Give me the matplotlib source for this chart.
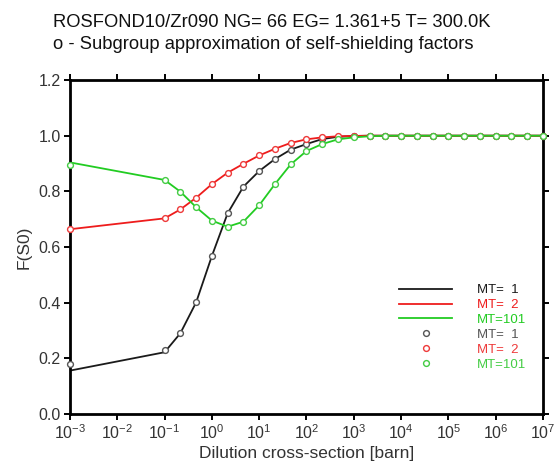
import matplotlib
matplotlib.use("Agg")
import matplotlib.pyplot as plt

plt.rcParams['font.family'] = ['Liberation Sans', 'DejaVu Sans']
plt.rcParams['mathtext.fontset'] = 'custom'
plt.rcParams['mathtext.rm'] = 'Liberation Sans'
plt.rcParams['mathtext.default'] = 'regular'

# Dilution cross-section grid (barn)
dilution = [1e-3, 0.1, 0.215, 0.464, 1.0, 2.15, 4.64, 10.0, 21.5, 46.4,
            100.0, 215.0, 464.0, 1e3, 2.15e3, 4.64e3, 1e4, 2.15e4, 4.64e4,
            1e5, 2.15e5, 4.64e5, 1e6, 2.15e6, 4.64e6, 1e7]

# Pointwise self-shielding factors (lines)
line_mt1 = [0.156, 0.222, 0.290, 0.401, 0.568, 0.721, 0.817, 0.873, 0.916, 0.950,
            0.970, 0.988, 0.996, 0.999, 1.0, 1.0, 1.0, 1.0, 1.0, 1.0, 1.0, 1.0, 1.0, 1.0, 1.0, 1.0]
line_mt2 = [0.664, 0.703, 0.735, 0.777, 0.826, 0.867, 0.899, 0.929, 0.953, 0.974,
            0.987, 0.994, 0.998, 0.999, 1.0, 1.0, 1.0, 1.0, 1.0, 1.0, 1.0, 1.0, 1.0, 1.0, 1.0, 1.0]
line_mt101 = [0.904, 0.841, 0.799, 0.743, 0.695, 0.673, 0.691, 0.750, 0.826, 0.897,
              0.945, 0.970, 0.987, 0.994, 0.998, 1.0, 1.0, 1.0, 1.0, 1.0, 1.0, 1.0, 1.0, 1.0, 1.0, 1.0]

# Subgroup approximation (markers)
sg_mt1 = [0.180, 0.230, 0.290, 0.401, 0.568, 0.721, 0.817, 0.873, 0.916, 0.950,
          0.970, 0.988, 0.996, 0.999, 1.0, 1.0, 1.0, 1.0, 1.0, 1.0, 1.0, 1.0, 1.0, 1.0, 1.0, 1.0]
sg_mt2 = [0.666, 0.703, 0.735, 0.777, 0.826, 0.867, 0.899, 0.929, 0.953, 0.974,
          0.987, 0.994, 0.998, 0.999, 1.0, 1.0, 1.0, 1.0, 1.0, 1.0, 1.0, 1.0, 1.0, 1.0, 1.0, 1.0]
sg_mt101 = [0.895, 0.841, 0.799, 0.743, 0.695, 0.673, 0.691, 0.750, 0.826, 0.897,
            0.945, 0.970, 0.987, 0.994, 0.998, 1.0, 1.0, 1.0, 1.0, 1.0, 1.0, 1.0, 1.0, 1.0, 1.0, 1.0]

labels = ["MT=  1", "MT=  2", "MT=101"]
line_colors = ['#1a1a1a', '#ee1c1c', '#22cc22']
marker_colors = ['#555555', '#ee3a3a', '#44cc44']
text_color = '#333333'

fig = plt.figure(figsize=(5.56, 4.70), dpi=100)
ax = fig.add_axes([0.1259, 0.1191, 0.8507, 0.7106])

handles = []
for ys, c, lab in zip([line_mt1, line_mt2, line_mt101], line_colors, labels):
    h, = ax.plot(dilution, ys, color=c, lw=1.3, label=lab, zorder=2)
    handles.append(h)
for ys, c, lab in zip([sg_mt1, sg_mt2, sg_mt101], marker_colors, labels):
    h, = ax.plot(dilution, ys, ls='none', marker='o', ms=4.2, mfc='white',
                 mec=c, mew=1.0, label=lab, zorder=3, clip_on=False)
    handles.append(h)

ax.set_xscale('log')
ax.set_xlim(1e-3, 1e7)
ax.set_ylim(0.0, 1.2)
ax.set_xticks([10.0**k for k in range(-3, 8)])
ax.minorticks_off()
ax.set_yticks([0.0, 0.2, 0.4, 0.6, 0.8, 1.0, 1.2])
ax.set_yticklabels(['0.0', '0.2', '0.4', '0.6', '0.8', '1.0', '1.2'])

for s in ax.spines.values():
    s.set_linewidth(2.0)
    s.set_color('black')
ax.tick_params(axis='both', which='major', direction='out', length=4.5, width=1.4,
               colors='black', labelcolor=text_color,
               top=True, right=True, labeltop=False, labelright=False, pad=2)
ax.tick_params(axis='x', labelsize=11.5)
ax.tick_params(axis='y', labelsize=11.5)

ax.set_xlabel('Dilution cross-section [barn]', fontsize=12.5, color=text_color, labelpad=3)
ax.set_ylabel('F(S0)', fontsize=12.5, color=text_color, labelpad=5)

fig.text(0.096, 0.953, 'ROSFOND10/Zr090 NG= 66 EG= 1.361+5 T= 300.0K',
         fontsize=13.2, color='#111111', ha='left', va='center')
fig.text(0.096, 0.905, 'o - Subgroup approximation of self-shielding factors',
         fontsize=13.2, color='#111111', ha='left', va='center')

leg = ax.legend(handles=handles, loc='upper left', bbox_to_anchor=(0.685, 0.405),
                frameon=False, fontsize=9.5, handlelength=4.0, handletextpad=1.9,
                labelspacing=0.2, borderaxespad=0.0)
for t, c in zip(leg.get_texts(), line_colors + marker_colors):
    t.set_color(c)

fig.savefig('out.png', dpi=100)
